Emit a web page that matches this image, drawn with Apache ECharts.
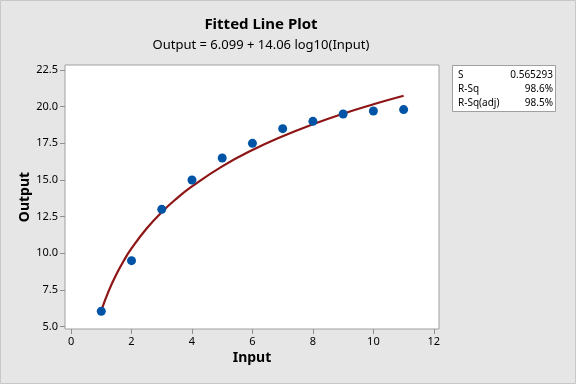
<!DOCTYPE html>
<html><head><meta charset="utf-8">
<script src="https://cdn.jsdelivr.net/npm/echarts@6/dist/echarts.min.js"></script>
<style>html,body{margin:0;padding:0;background:#e6e6e6}#c{width:576px;height:384px}</style>
</head><body><div id="c"></div>
<script>
// Observed data
const inputX = [1, 2, 3, 4, 5, 6, 7, 8, 9, 10, 11];
const outputY = [6.05, 9.5, 13.0, 15.0, 16.5, 17.5, 18.5, 19.0, 19.5, 19.7, 19.8];
// Fitted line
const fitX = [1, 1.25, 1.5, 1.75, 2, 2.5, 3, 3.5, 4, 5, 6, 7, 8, 9, 10, 11];
const fitY = [6.10, 7.46, 8.57, 9.52, 10.33, 11.69, 12.81, 13.75, 14.56, 15.93, 17.04, 17.98, 18.80, 19.52, 20.16, 20.74];
// Tick labels
const xTicks = [0, 2, 4, 6, 8, 10, 12];
const yTicks = [5.0, 7.5, 10.0, 12.5, 15.0, 17.5, 20.0, 22.5];
// Stats box
const statNames = ["S", "R-Sq", "R-Sq(adj)"];
const statValues = ["0.565293", "98.6%", "98.5%"];

const FONT = "'Noto Sans', 'Open Sans', sans-serif";
const chart = echarts.init(document.getElementById('c'));
const graphics = [
  {type:'rect', shape:{x:0.5,y:0.5,width:575,height:383}, style:{fill:'none', stroke:'#c8c8c8', lineWidth:1}, silent:true},
  {type:'text', x:261, y:25, style:{text:'Fitted Line Plot', font:"bold 15px "+FONT, fill:'#000', textAlign:'center', textVerticalAlign:'middle'}},
  {type:'text', x:261, y:45, style:{text:'Output = 6.099 + 14.06 log10(Input)', font:"13px "+FONT, fill:'#000', textAlign:'center', textVerticalAlign:'middle'}},
  {type:'rect', shape:{x:452.5,y:65.5,width:103,height:46}, style:{fill:'#fff', stroke:'#a0a0a0', lineWidth:1}}
];
statNames.forEach((n,i)=>{
  graphics.push({type:'text', x:458, y:75+i*14, style:{text:n, font:"10px "+FONT, fill:'#000', textAlign:'left', textVerticalAlign:'middle'}});
  graphics.push({type:'text', x:553, y:75+i*14, style:{text:statValues[i], font:"10px "+FONT, fill:'#000', textAlign:'right', textVerticalAlign:'middle'}});
});

chart.setOption({
  backgroundColor:'#e6e6e6',
  animation:false,
  grid:{left:65, top:65, right:137, bottom:55, show:true, backgroundColor:'#fff', borderColor:'#a0a0a0', borderWidth:1},
  xAxis:{type:'value', min:-0.2, max:12.17,
    name:'Input', nameLocation:'middle', nameGap:22, nameMoveOverlap:false,
    nameTextStyle:{fontFamily:FONT, fontSize:14, fontWeight:'bold', color:'#000'},
    axisLine:{show:false, onZero:false},
    axisTick:{show:true, length:5, customValues:xTicks, lineStyle:{color:'#909090'}},
    axisLabel:{customValues:xTicks, margin:7, fontFamily:FONT, fontSize:11, color:'#000'},
    splitLine:{show:false}},
  yAxis:{type:'value', min:4.84, max:22.84,
    name:'Output', nameLocation:'middle', nameGap:33, nameMoveOverlap:false,
    nameTextStyle:{fontFamily:FONT, fontSize:14, fontWeight:'bold', color:'#000'},
    axisLine:{show:false, onZero:false},
    axisTick:{show:true, length:5, customValues:yTicks, lineStyle:{color:'#909090'}},
    axisLabel:{customValues:yTicks, margin:7, fontFamily:FONT, fontSize:11, color:'#000', formatter:v=>v.toFixed(1)},
    splitLine:{show:false}},
  graphic:graphics,
  series:[
    {type:'line', data:fitX.map((x,i)=>[x,fitY[i]]), smooth:true, showSymbol:false, symbol:'none',
      lineStyle:{color:'#8e1515', width:2.2}, z:2},
    {type:'scatter', data:inputX.map((x,i)=>[x,outputY[i]]), symbol:'circle', symbolSize:9,
      itemStyle:{color:'#0054a6', opacity:1}, z:3}
  ]
});
</script></body></html>
